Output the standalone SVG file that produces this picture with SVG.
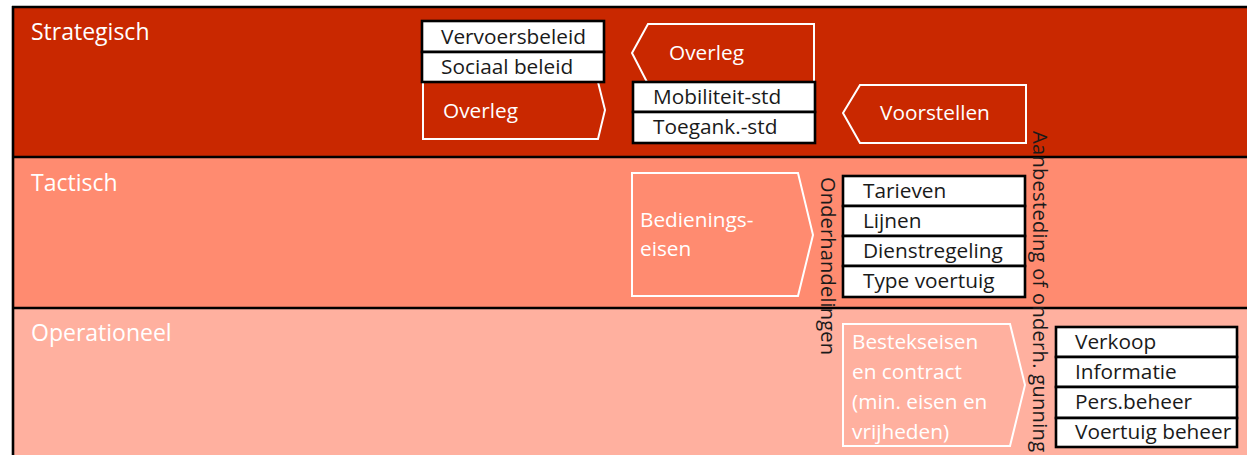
<svg xmlns="http://www.w3.org/2000/svg" width="1247" height="455" viewBox="0 0 1247 455">
<style>
  text { font-family: "Open Sans", "Noto Sans", sans-serif; font-size: 20.8px; }
  .lbl { fill: #ffffff; font-size: 23px; }
  .box rect { fill: #ffffff; stroke: #000000; stroke-width: 2.6; }
  .box text { fill: #1a1a1a; }
  .shape { fill: none; stroke: #ffffff; stroke-width: 2; }
  .wt { fill: #ffffff; }
  .vt { fill: #1a1a1a; font-size: 20px; }
  .sep { stroke: #000000; stroke-width: 2.6; }
</style>
<g id="lanes">
  <rect x="12" y="6" width="1240" height="151" fill="#C92800"/>
  <rect x="12" y="157" width="1240" height="151" fill="#FF8B70"/>
  <rect x="12" y="308" width="1240" height="150" fill="#FFB09F"/>
  <line class="sep" x1="12" y1="7" x2="1247" y2="7"/>
  <line class="sep" x1="12" y1="157" x2="1247" y2="157"/>
  <line class="sep" x1="12" y1="308" x2="1247" y2="308"/>
  <line class="sep" x1="13" y1="6" x2="13" y2="455"/>
  <text class="lbl" x="31" y="40">Strategisch</text>
  <text class="lbl" x="31" y="191">Tactisch</text>
  <text class="lbl" x="31" y="341">Operationeel</text>
</g>
<g id="overleg1">
  <polygon class="shape" points="423,82 598,82 605,110 598,139 423,139"/>
  <text class="wt" x="443" y="118">Overleg</text>
</g>
<g id="beleid" class="box">
  <rect x="422" y="21" width="182" height="31"/>
  <rect x="422" y="52" width="182" height="30"/>
  <text x="441" y="44">Vervoersbeleid</text>
  <text x="441" y="74">Sociaal beleid</text>
</g>
<g id="overleg2">
  <polygon class="shape" points="648,24 814,24 814,84 648,84 632,53"/>
  <text class="wt" x="669" y="60">Overleg</text>
</g>
<g id="std" class="box">
  <rect x="633" y="82" width="182" height="30"/>
  <rect x="633" y="112" width="182" height="31"/>
  <text x="653" y="104">Mobiliteit-std</text>
  <text x="653" y="134">Toegank.-std</text>
</g>
<g id="voorstellen">
  <polygon class="shape" points="860,85 1026,85 1026,143 860,143 843,113"/>
  <text class="wt" x="880" y="120">Voorstellen</text>
</g>
<g id="bedieningseisen">
  <polygon class="shape" points="632,173 798,173 813,235 798,296 632,296"/>
  <text class="wt" x="640" y="227">Bedienings-</text>
  <text class="wt" x="640" y="256">eisen</text>
</g>
<g id="tactisch-items" class="box">
  <rect x="843" y="176" width="182" height="30"/>
  <rect x="843" y="206" width="182" height="30"/>
  <rect x="843" y="236" width="182" height="30"/>
  <rect x="843" y="266" width="182" height="31"/>
  <text x="863" y="198">Tarieven</text>
  <text x="863" y="228">Lijnen</text>
  <text x="863" y="258">Dienstregeling</text>
  <text x="863" y="288">Type voertuig</text>
</g>
<g id="bestekseisen">
  <polygon class="shape" points="843,324 1010,324 1025,385 1010,446 843,446"/>
  <text class="wt" x="852" y="349">Bestekseisen</text>
  <text class="wt" x="852" y="379">en contract</text>
  <text class="wt" x="852" y="409">(min. eisen en</text>
  <text class="wt" x="852" y="439">vrijheden)</text>
</g>
<g id="operationeel-items" class="box">
  <rect x="1056" y="327" width="181" height="30"/>
  <rect x="1056" y="357" width="181" height="30"/>
  <rect x="1056" y="387" width="181" height="31"/>
  <rect x="1056" y="418" width="181" height="29"/>
  <text x="1075" y="349">Verkoop</text>
  <text x="1075" y="379">Informatie</text>
  <text x="1075" y="409">Pers.beheer</text>
  <text x="1075" y="439">Voertuig beheer</text>
</g>
<g id="connectors">
  <text class="vt" transform="translate(821,177) rotate(90)" textLength="178">Onderhandelingen</text>
  <text class="vt" transform="translate(1033,131) rotate(90)" textLength="321">Aanbesteding of onderh. gunning</text>
</g>
</svg>
